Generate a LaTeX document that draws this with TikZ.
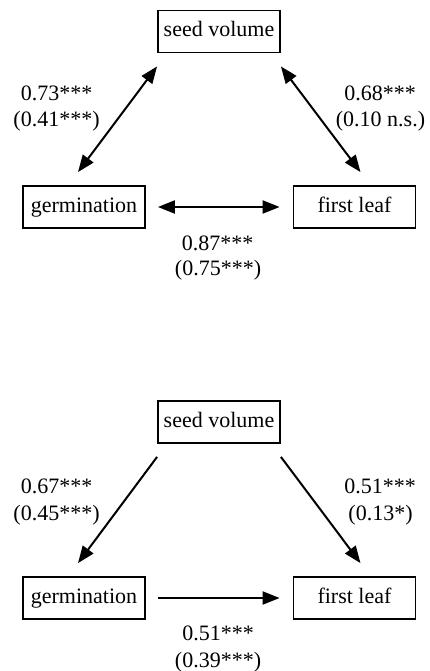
\documentclass[tikz,border=0pt]{standalone}
\usepackage{fontspec}
\setmainfont{Liberation Serif}
\usetikzlibrary{arrows.meta}
\begin{document}
\begin{tikzpicture}[x=1pt,y=1pt,
  varbox/.style={draw, line width=1.8pt, minimum width=122pt, minimum height=42pt,
                 inner sep=0pt, text height=15pt, text depth=5pt,
                 font=\fontsize{22}{24}\selectfont},
  coef/.style={anchor=base, inner sep=0pt, font=\fontsize{22}{24}\selectfont},
  link/.style={line width=2pt, -{Triangle[length=17pt,width=13pt]}},
  dlink/.style={line width=2pt, {Triangle[length=17pt,width=13pt]}-{Triangle[length=17pt,width=13pt]}}]
\useasboundingbox (0,0) rectangle (429,-671);

% --- upper diagram: correlations
\node[varbox] (sv1) at (219,-31.5) {seed volume};
\node[varbox] (ge1) at (84,-207) {germination};
\node[varbox] (fl1) at (354.5,-207) {first leaf};
\draw[dlink] ([yshift=-13pt]sv1.south west) -- ([shift={(-6pt,13pt)}]ge1.north);
\draw[dlink] ([yshift=-13pt]sv1.south east) -- ([shift={(6pt,13pt)}]fl1.north);
\draw[dlink] ([xshift=12pt]ge1.east) -- ([xshift=-13pt]fl1.west);
\node[coef] (a1) at (56.5,-101) {0.73***};
\node[coef] (a2) at (56.5,-127) {(0.41***)};
\node[coef] (b1) at (380,-101) {0.68***};
\node[coef] (b2) at (380.5,-127) {(0.10 n.s.)};
\node[coef] (c1) at (217.5,-250) {0.87***};
\node[coef] (c2) at (218,-275) {(0.75***)};

% --- lower diagram: path model
\node[varbox] (sv2) at (219,-422) {seed volume};
\node[varbox] (ge2) at (84,-598) {germination};
\node[varbox] (fl2) at (354.5,-598) {first leaf};
\draw[link] ([yshift=-13pt]sv2.south west) -- ([shift={(-6pt,13pt)}]ge2.north);
\draw[link] ([yshift=-13pt]sv2.south east) -- ([shift={(6pt,13pt)}]fl2.north);
\draw[link] ([xshift=12pt]ge2.east) -- ([xshift=-13pt]fl2.west);
\node[coef] (d1) at (56.5,-493) {0.67***};
\node[coef] (d2) at (56.5,-520) {(0.45***)};
\node[coef] (e1) at (380,-493) {0.51***};
\node[coef] (e2) at (380.5,-520) {(0.13*)};
\node[coef] (f1) at (218,-640) {0.51***};
\node[coef] (f2) at (218,-667) {(0.39***)};
\end{tikzpicture}
\end{document}
